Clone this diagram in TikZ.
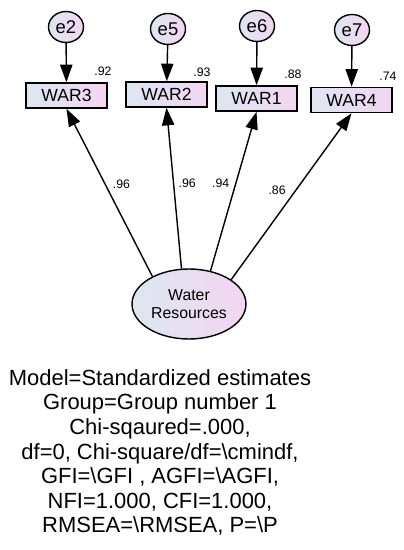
\documentclass[tikz,border=0pt]{standalone}
\usepackage{fontspec}
\setmainfont{Liberation Sans}
\usetikzlibrary{arrows.meta,positioning,shapes.geometric}
\definecolor{amosblue}{RGB}{221,231,240}
\definecolor{amospink}{RGB}{243,213,241}
\tikzset{
  observed/.style={
    draw,
    line width=0.9pt,
    left color=amosblue,
    right color=amospink,
    minimum width=1.62cm,
    minimum height=0.5cm,
    inner sep=0pt,
    font=\fontsize{10}{12}\selectfont
  },
  errorterm/.style={
    ellipse,
    draw,
    line width=0.8pt,
    left color=amosblue,
    right color=amospink,
    minimum width=0.7cm,
    minimum height=0.62cm,
    inner sep=0pt,
    font=\fontsize{10.5}{12}\selectfont
  },
  latent/.style={
    ellipse,
    draw,
    line width=0.8pt,
    left color=amosblue,
    right color=amospink,
    align=center,
    minimum width=2.28cm,
    minimum height=1.4cm,
    inner sep=0pt,
    font=\fontsize{9}{10.2}\selectfont
  },
  coef/.style={
    inner sep=1pt,
    font=\fontsize{7}{8}\selectfont
  },
  fitnote/.style={
    align=center,
    inner sep=0pt,
    font=\fontsize{12.5}{14}\selectfont
  },
  arrow/.style={
    -{Triangle[length=10pt,width=7pt]},
    line width=0.8pt
  }
}

\begin{document}
\begin{tikzpicture}[x=0.02cm,y=-0.02cm]
\useasboundingbox (0,0) rectangle (404,550);
% indicators
\node[observed] (war3) at (66.5,95.5) {WAR3};
\node[observed] (war2) at (166.5,94.5) {WAR2};
\node[observed] (war1) at (256.5,98.5) {WAR1};
\node[observed] (war4) at (351.5,100) {WAR4};
% error terms
\node[errorterm] (e2) at (66,27) {e2};
\node[errorterm] (e5) at (168,29) {e5};
\node[errorterm] (e6) at (257,26) {e6};
\node[errorterm] (e7) at (352,30) {e7};
% squared multiple correlations
\node[coef] (r3) at (103,71) {.92};
\node[coef] (r2) at (202,72) {.93};
\node[coef] (r1) at (293,74) {.88};
\node[coef] (r4) at (388,76) {.74};
% factor
\node[latent] (wr) at (189,304) {Water\\Resources};
\path[arrow]
  (e2) edge (war3)
  (e5) edge (war2)
  (e6) edge (war1)
  (e7) edge (war4);
\path[arrow]
  (wr.143) edge node[coef,pos=.55,right=3pt] {.96} (war3.south)
  (wr.102) edge node[coef,pos=.53,right=1.5pt] {.96} (war2.south)
  (wr.57)  edge node[coef,pos=.55,left=2.3pt] {.94} (war1.south)
  (wr.30)  edge node[coef,pos=.54,left=4.6pt] {.86} (war4.south);
% fit summary
\node[fitnote,anchor=north] (fit) at (160,369) {Model=Standardized estimates\\
  Group=Group number 1\\
  Chi-sqaured=.000,\\
  df=0, Chi-square/df=\textbackslash cmindf,\\
  GFI=\textbackslash GFI , AGFI=\textbackslash AGFI,\\
  NFI=1.000, CFI=1.000,\\
  RMSEA=\textbackslash RMSEA, P=\textbackslash P};
\end{tikzpicture}
\end{document}
